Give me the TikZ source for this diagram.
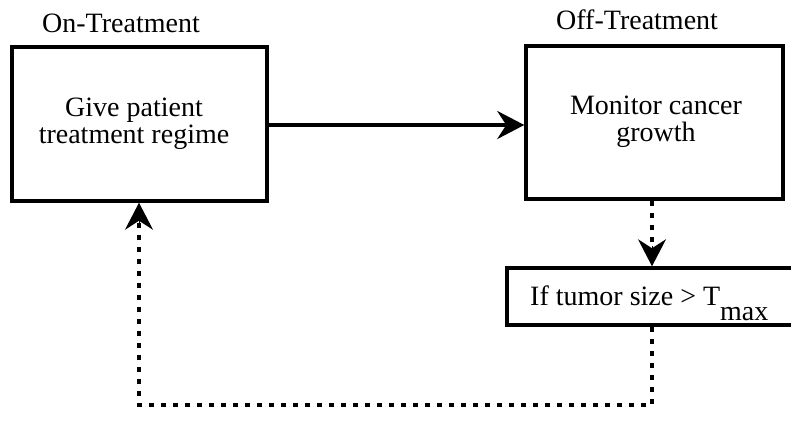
\documentclass[tikz,border=0pt]{standalone}
\usepackage{fontspec}
\newfontfamily\tnr{Liberation Serif}
\usetikzlibrary{arrows.meta}
\tikzset{
  box/.style={draw=black, line width=3.5pt, inner sep=0pt},
  lbl/.style={font=\tnr\fontsize{28}{28}\selectfont, inner sep=0pt},
  boxtext/.style={font=\tnr\fontsize{28}{27}\selectfont, align=center, inner sep=0pt},
  tip/.style={-{Stealth[length=27pt,width=28pt,inset=9pt]}},
  solidarrow/.style={tip, line width=4pt},
  dotarrow/.style={line width=4.5pt, dash pattern=on 5pt off 7pt},
}
\begin{document}
\begin{tikzpicture}[x=1pt,y=-1pt]
\path[use as bounding box, clip] (0,0) rectangle (791,433);
\node[box, minimum width=255pt, minimum height=154pt] (treat) at (139.5,124) {};
\node[boxtext] (treattxt) at (134,124) {Give patient\\treatment regime};
\node[box, minimum width=257pt, minimum height=153pt] (mon) at (654.5,122.5) {};
\node[boxtext] (montxt) at (656,122) {Monitor cancer\\growth};
\node[box, minimum width=286pt, minimum height=57pt] (cond) at (650,296.5) {};
\node[lbl, anchor=base west] (condtxt) at (530,305) {If tumor size > T\lower15pt\hbox{max}};
\node[lbl, anchor=base west] (onlbl) at (42,33) {On-Treatment};
\node[lbl, anchor=base west] (offlbl) at (556,30) {Off-Treatment};
\coordinate (c1) at (652,405);
\coordinate (c2) at (139,405);
\draw[solidarrow] (treat.east |- 0,125) -- (mon.west |- 0,125);
\draw[dotarrow] (c1 |- mon.south) -- ([yshift=14pt]c1 |- cond.north);
\draw[tip, line width=1pt] ([yshift=20pt]c1 |- cond.north) -- (c1 |- cond.north);
\draw[dotarrow] (c1 |- cond.south) -- (c1) -- (c2) -- ([yshift=-14pt]c2 |- treat.south);
\draw[tip, line width=1pt] ([yshift=-20pt]c2 |- treat.south) -- (c2 |- treat.south);
\end{tikzpicture}
\end{document}
